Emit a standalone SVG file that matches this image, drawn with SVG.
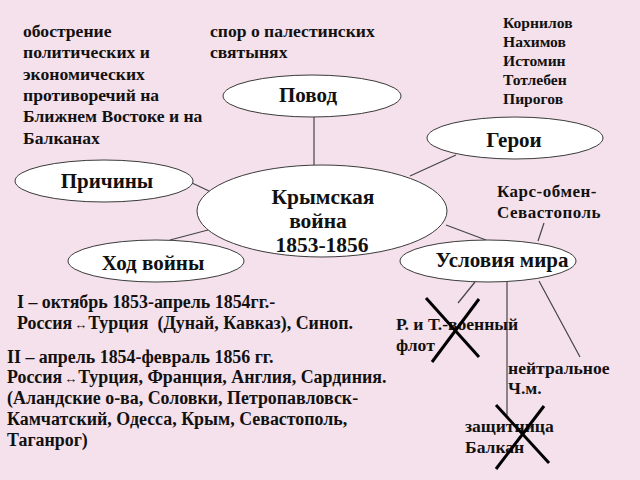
<svg xmlns="http://www.w3.org/2000/svg" width="640" height="480" viewBox="0 0 640 480">
<style>
.bg{fill:#f5e1ec}
.node ellipse{fill:#ffffff;stroke:#3a3a3a;stroke-width:1}
.lbl{font-family:"Liberation Serif","DejaVu Serif",serif;font-weight:bold;fill:#111}
.t{font-size:17.6px}
.b{font-size:17.9px}
.h{font-size:15.6px}
.k{font-size:17px}
.n{font-size:21px}
.c{font-size:21.5px}
.conn line{stroke:#444;stroke-width:1.2}
.cross line{stroke:#000;stroke-width:3}
.arr{font-size:13px}
</style>
<rect class="bg" x="0" y="0" width="640" height="480"/>
<g id="connectors" class="conn">
<line x1="314" y1="116" x2="314" y2="165"/>
<line x1="456" y1="155" x2="410" y2="176"/>
<line x1="192" y1="183" x2="209" y2="191"/>
<line x1="170" y1="240" x2="208" y2="230"/>
<line x1="446" y1="225" x2="486" y2="240"/>
<line x1="544" y1="223" x2="538" y2="241"/>
<line x1="475" y1="282" x2="458" y2="303"/>
<line x1="507" y1="282" x2="507" y2="415"/>
<line x1="539" y1="281" x2="580" y2="357"/>
</g>
<g id="node-povod" class="node">
<ellipse cx="312" cy="96" rx="89" ry="21"/>
<text class="lbl n" x="308" y="102" text-anchor="middle">Повод</text>
</g>
<g id="node-geroi" class="node">
<ellipse cx="515" cy="138" rx="88" ry="21"/>
<text class="lbl n" x="514" y="147" text-anchor="middle">Герои</text>
</g>
<g id="node-prichiny" class="node">
<ellipse cx="104" cy="181" rx="89" ry="21"/>
<text class="lbl n" x="107" y="188" text-anchor="middle">Причины</text>
</g>
<g id="node-hod" class="node">
<ellipse cx="156" cy="261" rx="88" ry="21"/>
<text class="lbl n" x="153" y="270" text-anchor="middle">Ход войны</text>
</g>
<g id="node-usloviya" class="node">
<ellipse cx="488" cy="261" rx="88" ry="21"/>
<text class="lbl n" x="502" y="267" text-anchor="middle">Условия мира</text>
</g>
<g id="node-center" class="node">
<ellipse cx="322" cy="211" rx="125" ry="46"/>
<text class="lbl c" text-anchor="middle"><tspan x="323" y="204">Крымская</tspan><tspan x="318" y="228">война</tspan><tspan x="322" y="252">1853-1856</tspan></text>
</g>
<g id="text-causes" class="lbl t">
<text x="23" y="37">обострение</text>
<text x="23" y="58">политических и</text>
<text x="23" y="80">экономических</text>
<text x="23" y="101">противоречий на</text>
<text x="23" y="122">Ближнем Востоке и на</text>
<text x="23" y="144">Балканах</text>
</g>
<g id="text-povod" class="lbl t">
<text x="210" y="37">спор о палестинских</text>
<text x="210" y="58">святынях</text>
</g>
<g id="text-heroes" class="lbl h">
<text x="503" y="28">Корнилов</text>
<text x="503" y="47">Нахимов</text>
<text x="503" y="66">Истомин</text>
<text x="503" y="85">Тотлебен</text>
<text x="503" y="104">Пирогов</text>
</g>
<g id="text-kars" class="lbl k">
<text x="497" y="197" letter-spacing="0.5">Карс-обмен-</text>
<text x="497" y="218" letter-spacing="0.5">Севастополь</text>
</g>
<g id="text-course" class="lbl b">
<text x="17" y="308">I – октябрь 1853-апрель 1854гг.-</text>
<text x="17" y="329">Россия<tspan class="arr" dx="2">↔</tspan><tspan dx="1">Турция</tspan><tspan dx="9">(Дунай, Кавказ), Синоп.</tspan></text>
<text x="7" y="363">II – апрель 1854-февраль 1856 гг.</text>
<text x="7" y="383">Россия<tspan class="arr" dx="2">↔</tspan><tspan dx="1">Турция, Франция, Англия, Сардиния.</tspan></text>
<text x="7" y="404">(Аландские о-ва, Соловки, Петропавловск-</text>
<text x="7" y="425">Камчатский, Одесса, Крым, Севастополь,</text>
<text x="7" y="446">Таганрог)</text>
</g>
<g id="text-terms" class="lbl t">
<text x="396" y="330">Р. и Т.-военный</text>
<text x="396" y="351">флот</text>
<text x="508" y="374">нейтральное</text>
<text x="508" y="394">Ч.м.</text>
<text x="465" y="432">защитница</text>
<text x="465" y="453">Балкан</text>
</g>
<g id="crosses" class="cross">
<line x1="426" y1="298" x2="479" y2="357"/>
<line x1="479" y1="299" x2="432" y2="362"/>
<line x1="496" y1="405" x2="549" y2="463"/>
<line x1="544" y1="406" x2="496" y2="469"/>
</g>
</svg>
